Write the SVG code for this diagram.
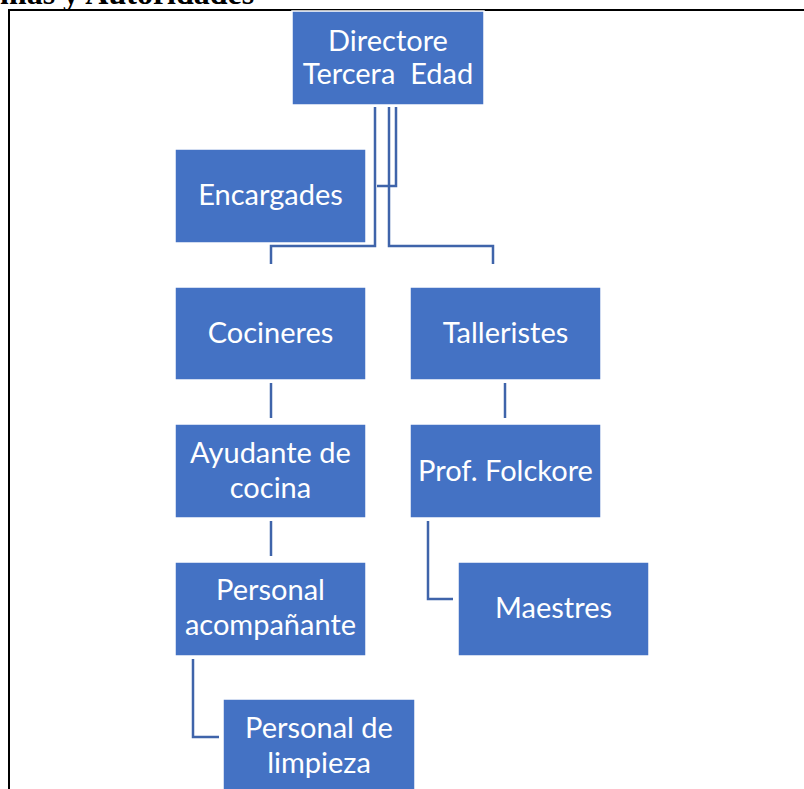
<svg xmlns="http://www.w3.org/2000/svg" width="804" height="789" viewBox="0 0 804 789">
<style>
.node rect { fill: #4472C4; stroke: #ffffff; stroke-width: 1.5; }
.node text { fill: #ffffff; font-family: Lato, "Liberation Sans", sans-serif; font-size: 29px; text-anchor: middle; }
#connectors path { fill: none; stroke: #3F64AA; stroke-width: 2.5; }
.title { font-family: "Liberation Serif", serif; font-weight: bold; font-size: 32px; fill: #000000; }
</style>
<rect width="804" height="789" fill="#ffffff"/>
<text class="title" x="0" y="4">mas y Autoridades</text>
<path d="M9,789 V10 H804" fill="none" stroke="#000000" stroke-width="2"/>
<g id="connectors">
<path d="M375,107 V246 H271 V264"/>
<path d="M389,107 V246 H493 V264"/>
<path d="M396,107 V186 H377"/>
<path d="M271,383 V418"/>
<path d="M505,383 V418"/>
<path d="M271,521 V556"/>
<path d="M428,521 V599 H453"/>
<path d="M193,659 V737 H219"/>
</g>
<g id="director" class="node"><rect x="292" y="11" width="192" height="94"/><text x="388" y="51">Directore</text><text x="388" y="84" xml:space="preserve">Tercera  Edad</text></g>
<g id="encargades" class="node"><rect x="175" y="149" width="191" height="94"/><text x="270.5" y="205">Encargades</text></g>
<g id="cocineres" class="node"><rect x="175" y="287" width="191" height="93"/><text x="270.5" y="343">Cocineres</text></g>
<g id="talleristes" class="node"><rect x="410" y="287" width="191" height="93"/><text x="505.5" y="343">Talleristes</text></g>
<g id="ayudante" class="node"><rect x="175" y="424" width="191" height="94"/><text x="270.5" y="463">Ayudante de</text><text x="270.5" y="498">cocina</text></g>
<g id="folckore" class="node"><rect x="410" y="424" width="191" height="94"/><text x="505.5" y="481">Prof. Folckore</text></g>
<g id="acompanante" class="node"><rect x="175" y="562" width="191" height="94"/><text x="270.5" y="600">Personal</text><text x="270.5" y="635">acompañante</text></g>
<g id="maestres" class="node"><rect x="458" y="562" width="191" height="94"/><text x="553.5" y="618">Maestres</text></g>
<g id="limpieza" class="node"><rect x="223" y="699" width="192" height="100"/><text x="319" y="738">Personal de</text><text x="319" y="773">limpieza</text></g>
</svg>
